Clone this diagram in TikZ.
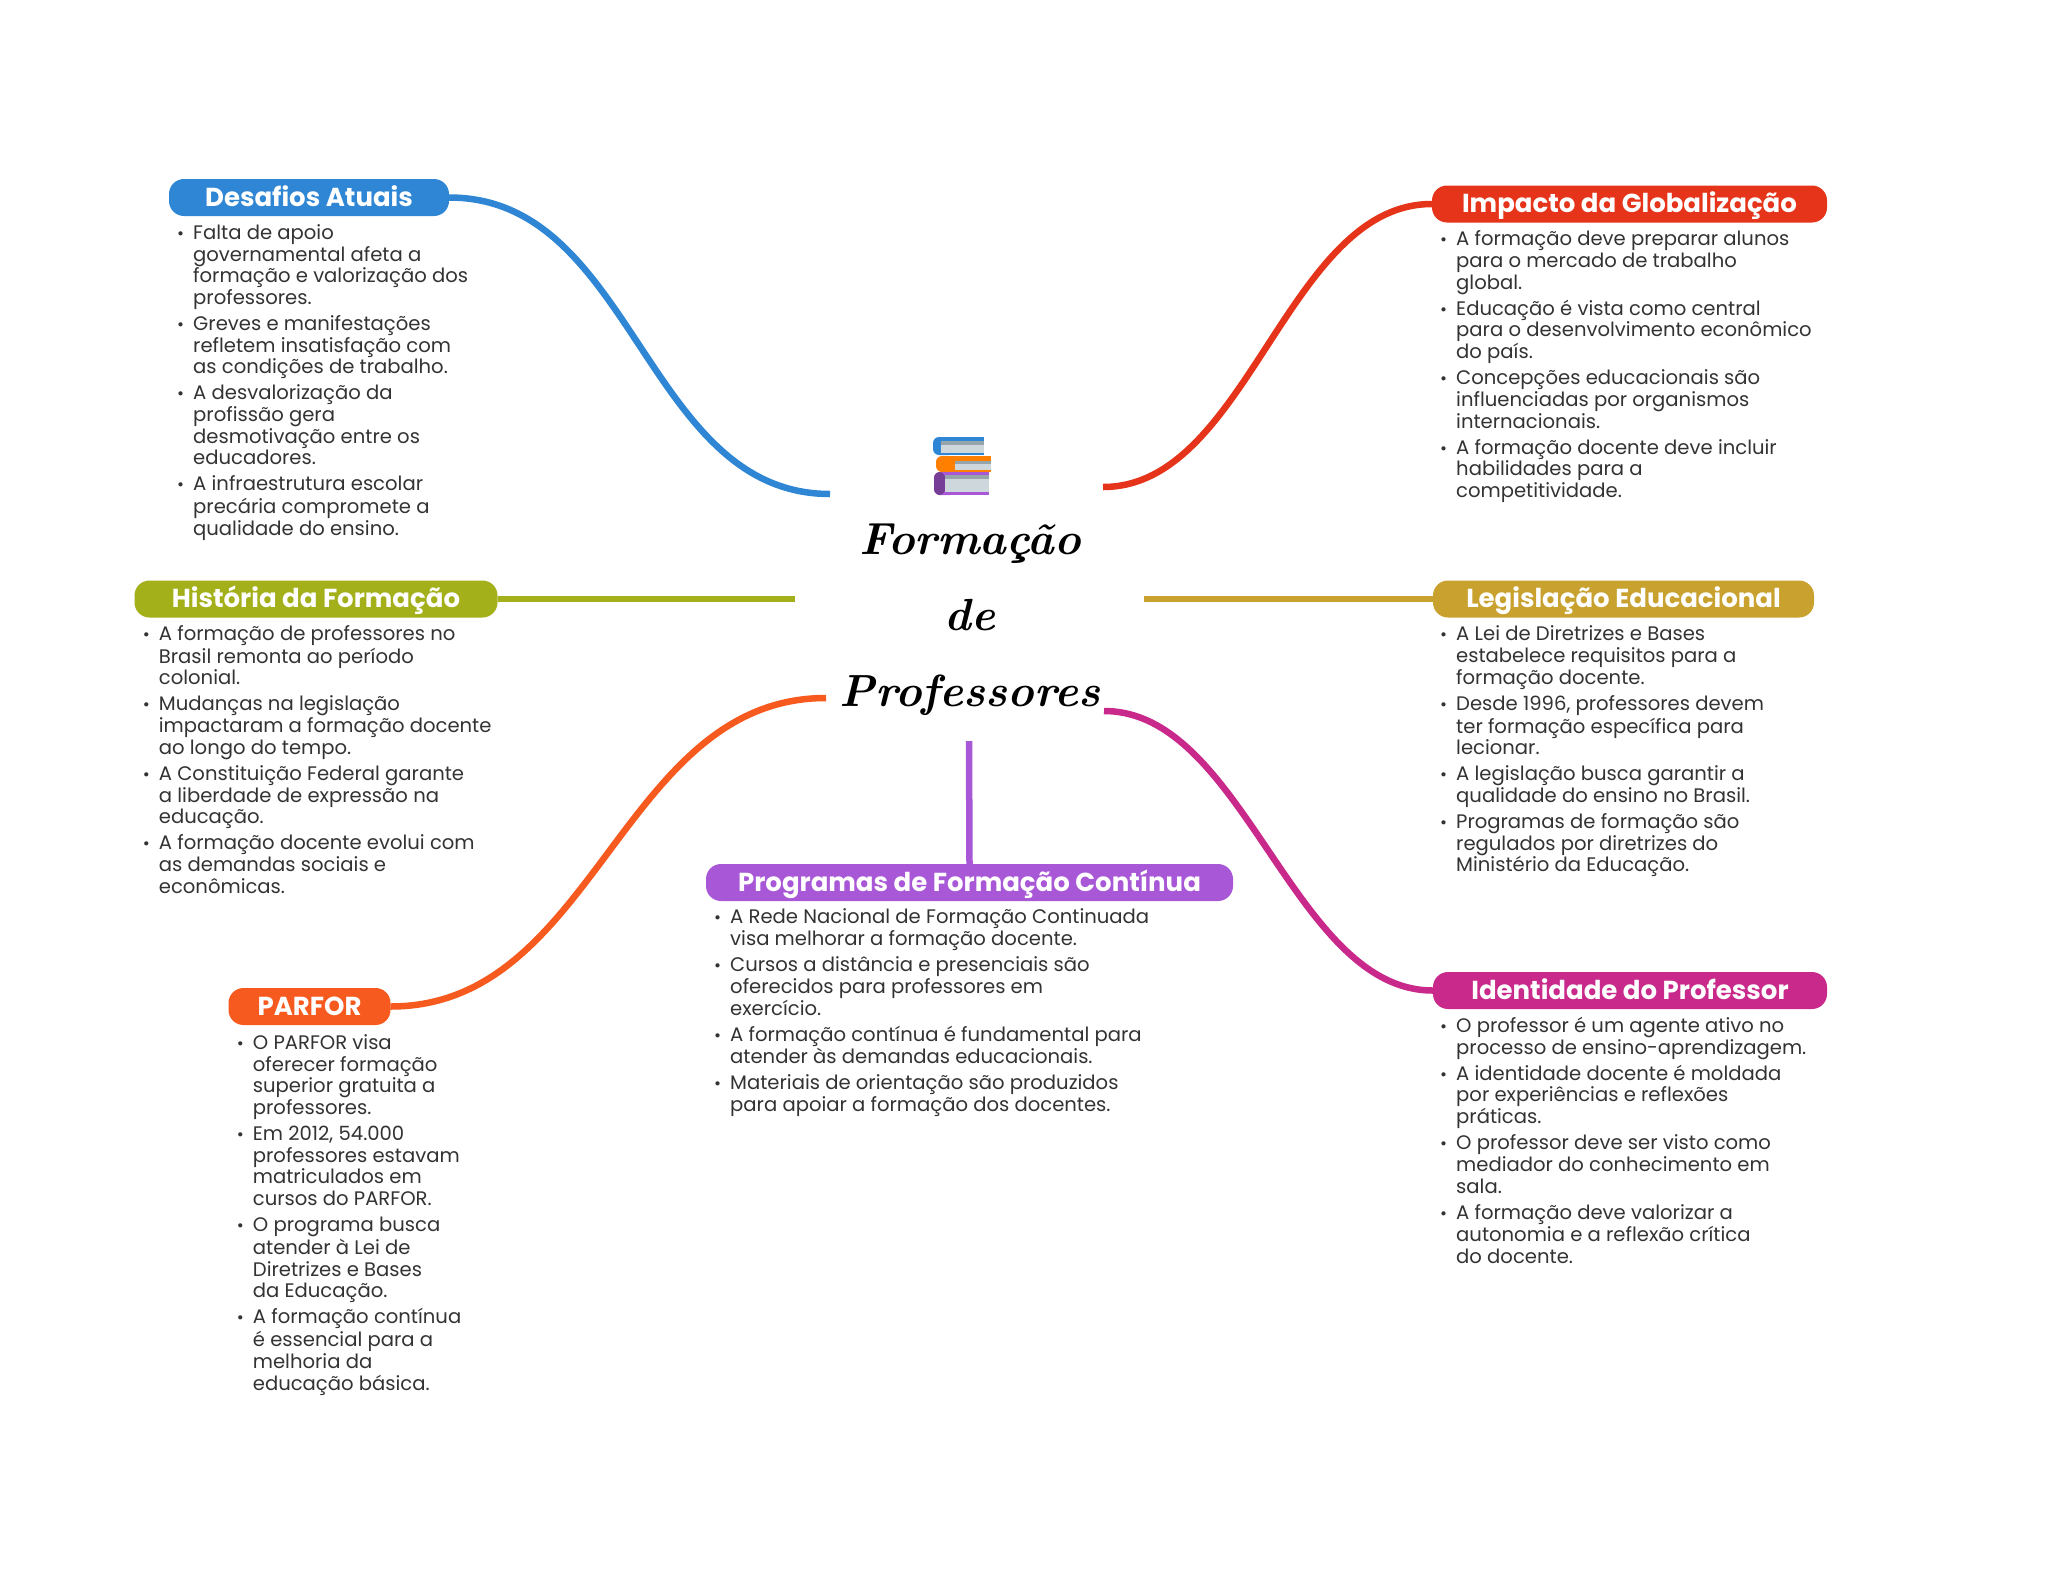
\documentclass[tikz,border=0pt]{standalone}
\usepackage{fontspec}
\setmainfont{Poppins}
\newfontfamily\titlefont{Latin Modern Roman}
\usepackage{tikz}
\usetikzlibrary{positioning}
\usepackage{xcolor}
\definecolor{desafioblue}{RGB}{47,134,212}
\definecolor{impactred}{RGB}{229,52,26}
\definecolor{historyolive}{RGB}{163,176,26}
\definecolor{lawgold}{RGB}{200,161,46}
\definecolor{parforange}{RGB}{246,90,30}
\definecolor{programpurple}{RGB}{168,88,214}
\definecolor{identmagenta}{RGB}{200,41,138}
\definecolor{bodygray}{RGB}{51,51,51}
\definecolor{pagegray}{RGB}{205,215,220}
\definecolor{edgegray}{RGB}{150,165,172}
\newcommand{\pitem}{\strut\llap{{\fontsize{17}{17}\selectfont •}\hspace{9pt}}}
\tikzset{
  topic/.style={rounded corners=15pt, minimum height=37pt, inner sep=0pt, text=white,
    text height=22pt, text depth=5pt, font=\fontsize{26}{30}\selectfont\bfseries},
  notes/.style={anchor=north west, align=left, inner sep=0pt, text=bodygray,
    font=\fontsize{19.6}{21.7}\selectfont},
  link/.style={line width=6.5pt}
}
\begin{document}
\begin{tikzpicture}[x=1pt, y=-1pt]
  \useasboundingbox (0,0) rectangle (2048,1569);
  \fill[white] (0,0) rectangle (2048,1569);
  % free ends round the title
  \coordinate (blueend) at (830,494);
  \coordinate (redend) at (1103,487);
  \coordinate (oliveend) at (795,599);
  \coordinate (goldend) at (1144,599);
  \coordinate (orangeend) at (826,698);
  \coordinate (magentaend) at (1104,711);
  \coordinate (purpleend) at (969,741);
  % topics
  \node[topic, fill=desafioblue, minimum width=280pt] (desafios) at (309,197.5) {Desafios Atuais};
  \node[topic, fill=impactred, minimum width=395pt] (impacto) at (1629.5,204) {Impacto da Globalização};
  \node[topic, fill=historyolive, minimum width=363pt] (historia) at (316,599) {História da Formação};
  \node[topic, fill=lawgold, minimum width=381pt] (legislacao) at (1623.5,599) {Legislação Educacional};
  \node[topic, fill=parforange, minimum width=162pt] (parfor) at (309.5,1006.5) {PARFOR};
  \node[topic, fill=programpurple, minimum width=527pt] (programas) at (969.5,882.5) {Programas de Formação Contínua};
  \node[topic, fill=identmagenta, minimum width=394pt] (identidade) at (1630,990.5) {Identidade do Professor};
  % links
  \draw[link, desafioblue] (desafios.east) .. controls +(185,0) and +(-185,0) .. (blueend);
  \draw[link, impactred] (impacto.west) .. controls +(-145,0) and +(145,0) .. (redend);
  \draw[link, historyolive] (historia.east) -- (oliveend);
  \draw[link, lawgold] (legislacao.west) -- (goldend);
  \draw[link, parforange] (parfor.east) .. controls +(205,0) and +(-205,0) .. (orangeend);
  \draw[link, identmagenta] (identidade.west) .. controls +(-140,0) and +(140,0) .. (magentaend);
  \draw[link, programpurple] (programas.north) -- (purpleend);
  % notes
  \node[notes] (desafiosnotes) at (193,224) {\pitem Falta de apoio\\
    governamental afeta a\\ formação e valorização dos\\ professores.\\[4.3pt]
    \pitem Greves e manifestações\\ refletem insatisfação com\\ as condições de trabalho.\\[4.3pt]
    \pitem A desvalorização da\\ profissão gera\\ desmotivação entre os\\ educadores.\\[4.3pt]
    \pitem A infraestrutura escolar\\ precária compromete a\\ qualidade do ensino.};
  \node[notes] (impactonotes) at (1456,230.5) {\pitem A formação deve preparar alunos\\
    para o mercado de trabalho\\ global.\\[4.3pt]
    \pitem Educação é vista como central\\ para o desenvolvimento econômico\\ do país.\\[4.3pt]
    \pitem Concepções educacionais são\\ influenciadas por organismos\\ internacionais.\\[4.3pt]
    \pitem A formação docente deve incluir\\ habilidades para a\\ competitividade.};
  \node[notes] (historianotes) at (158.7,625) {\pitem A formação de professores no\\
    Brasil remonta ao período\\ colonial.\\[4.3pt]
    \pitem Mudanças na legislação\\ impactaram a formação docente\\ ao longo do tempo.\\[4.3pt]
    \pitem A Constituição Federal garante\\ a liberdade de expressão na\\ educação.\\[4.3pt]
    \pitem A formação docente evolui com\\ as demandas sociais e\\ econômicas.};
  \node[notes] (legislacaonotes) at (1456,625.5) {\pitem A Lei de Diretrizes e Bases\\
    estabelece requisitos para a\\ formação docente.\\[4.3pt]
    \pitem Desde 1996, professores devem\\ ter formação específica para\\ lecionar.\\[4.3pt]
    \pitem A legislação busca garantir a\\ qualidade do ensino no Brasil.\\[4.3pt]
    \pitem Programas de formação são\\ regulados por diretrizes do\\ Ministério da Educação.};
  \node[notes] (parfornotes) at (252.7,1034) {\pitem O PARFOR visa\\
    oferecer formação\\ superior gratuita a\\ professores.\\[4.3pt]
    \pitem Em 2012, 54.000\\ professores estavam\\ matriculados em\\ cursos do PARFOR.\\[4.3pt]
    \pitem O programa busca\\ atender à Lei de\\ Diretrizes e Bases\\ da Educação.\\[4.3pt]
    \pitem A formação contínua\\ é essencial para a\\ melhoria da\\ educação básica.};
  \node[notes] (programasnotes) at (730,908.5) {\pitem A Rede Nacional de Formação Continuada\\
    visa melhorar a formação docente.\\[4.3pt]
    \pitem Cursos a distância e presenciais são\\ oferecidos para professores em\\ exercício.\\[4.3pt]
    \pitem A formação contínua é fundamental para\\ atender às demandas educacionais.\\[4.3pt]
    \pitem Materiais de orientação são produzidos\\ para apoiar a formação dos docentes.};
  \node[notes] (identidadenotes) at (1456,1017) {\pitem O professor é um agente ativo no\\
    processo de ensino-aprendizagem.\\[4.3pt]
    \pitem A identidade docente é moldada\\ por experiências e reflexões\\ práticas.\\[4.3pt]
    \pitem O professor deve ser visto como\\ mediador do conhecimento em\\ sala.\\[4.3pt]
    \pitem A formação deve valorizar a\\ autonomia e a reflexão crítica\\ do docente.};
  % books
  \fill[desafioblue, rounded corners=6pt] (933,437) rectangle (955,455);
  \fill[desafioblue] (945,437) rectangle (984,455);
  \fill[pagegray] (941,441) rectangle (984,453);
  \fill[edgegray] (941,441) rectangle (984,445);
  \fill[orange, rounded corners=6pt] (936,456) rectangle (958,472);
  \fill[orange] (948,456) rectangle (991,472);
  \fill[pagegray] (955,461) rectangle (991,470);
  \fill[edgegray] (955,461) rectangle (991,464);
  \fill[programpurple, rounded corners=6pt] (934,472) rectangle (956,495);
  \fill[programpurple] (946,472) rectangle (989,495);
  \fill[programpurple!70!black, rounded corners=6pt] (934,472) rectangle (945,495);
  \fill[pagegray] (945,475) rectangle (989,492);
  \fill[edgegray] (945,475) rectangle (989,479);
  % title
  \node[inner sep=0pt, align=center, font=\titlefont\bfseries\itshape\fontsize{45}{76}\selectfont] (title) at (970,620)
    {Formação\\ de\\ Professores};
\end{tikzpicture}
\end{document}
